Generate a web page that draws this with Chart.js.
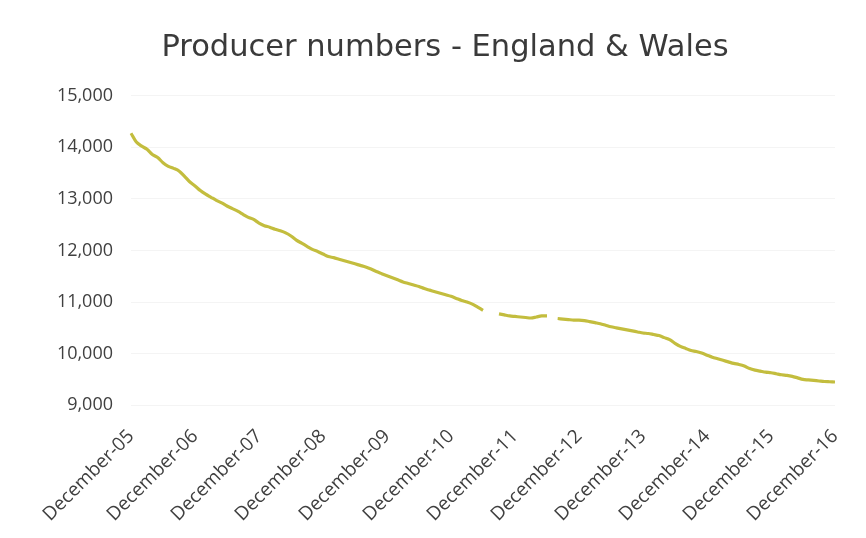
<!DOCTYPE html>
<html>
<head>
<meta charset="utf-8">
<script src="https://cdn.jsdelivr.net/npm/chart.js@4"></script>
<style>
html,body{margin:0;padding:0;background:#fff;}
#wrap{width:866px;height:538px;}
</style>
</head>
<body>
<div id="wrap"><canvas id="c" width="866" height="538"></canvas></div>
<script>
const titleText = "Producer numbers - England & Wales";
const monthNames = ["January","February","March","April","May","June","July","August","September","October","November","December"];
const tickLabels = ["December-05","December-06","December-07","December-08","December-09","December-10","December-11","December-12","December-13","December-14","December-15","December-16"];
const producers = [
  14270,14100,14020,13960,13860,13800,13700,13630,13590,13540,13440,13330,
  13250,13160,13090,13030,12970,12920,12860,12810,12760,12700,12640,12600,
  12530,12480,12450,12410,12380,12340,12280,12200,12140,12080,12020,11980,
  11930,11880,11860,11830,11800,11770,11740,11710,11680,11640,11590,11550,
  11510,11470,11430,11390,11360,11330,11300,11260,11230,11200,11170,11140,
  11110,11070,11030,11000,10960,10900,10840,null,null,10770,10750,10730,
  10720,10710,10700,10690,10710,10730,10730,null,10680,10670,10660,10650,
  10650,10640,10620,10600,10580,10550,10520,10500,10480,10460,10440,10420,
  10400,10390,10370,10350,10310,10270,10200,10140,10100,10060,10040,10010,
  9970,9930,9900,9870,9840,9810,9790,9760,9710,9680,9660,9640,
  9630,9610,9590,9580,9560,9530,9500,9490,9480,9470,9460,9455,
  9450
];
const yTicks = [9000,10000,11000,12000,13000,14000,15000];

// monthly categories Dec-05 .. Dec-16, one per value
const categories = producers.map((_, i) => {
  const m = (11 + i) % 12;
  const y = 5 + Math.floor((11 + i) / 12);
  return monthNames[m] + "-" + String(y).padStart(2, "0");
});

new Chart(document.getElementById('c'), {
  type: 'line',
  data: {
    labels: categories,
    datasets: [{
      data: producers,
      borderColor: '#c3bd3e',
      borderWidth: 3.2,
      pointRadius: 0,
      tension: 0.3,
      spanGaps: false,
      fill: false
    }]
  },
  options: {
    responsive: false,
    animation: false,
    devicePixelRatio: 1,
    layout: { padding: { left: 55, right: 31, top: 0, bottom: 0 } },
    plugins: {
      legend: { display: false },
      tooltip: { enabled: false },
      title: {
        display: true,
        text: titleText,
        color: '#3a3a3a',
        font: { family: 'DejaVu Sans', size: 30.5, weight: 'normal' },
        padding: { top: 30, bottom: 29 }
      }
    },
    scales: {
      x: {
        offset: false,
        grid: { display: false },
        border: { display: false },
        ticks: {
          autoSkip: false,
          maxRotation: 45,
          minRotation: 45,
          color: '#404040',
          font: { family: 'Open Sans', size: 19 },
          padding: 12,
          callback: function(v, i) {
            const l = categories[i];
            return tickLabels.includes(l) ? l : null;
          }
        }
      },
      y: {
        min: 9000,
        max: 15000,
        afterBuildTicks: (axis) => { axis.ticks = yTicks.map(v => ({ value: v })); },
        afterFit: (axis) => { axis.width = 76; },
        grid: { color: 'rgba(0,0,0,0.045)', drawTicks: false },
        border: { display: false },
        ticks: {
          color: '#404040',
          font: { family: 'Open Sans', size: 18 },
          padding: 18,
          callback: (v) => v.toLocaleString('en-US')
        }
      }
    }
  }
});
</script>
</body>
</html>
